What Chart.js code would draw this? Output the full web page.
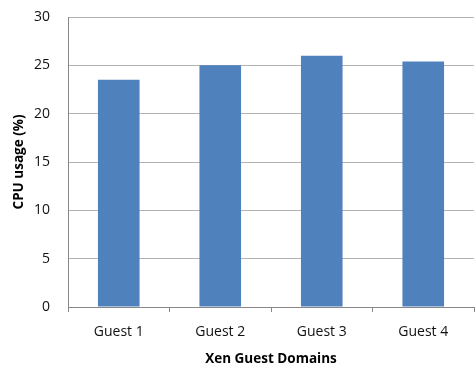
<!DOCTYPE html>
<html>
<head>
<meta charset="utf-8">
<script src="https://cdn.jsdelivr.net/npm/chart.js@4"></script>
<style>
  html, body { margin: 0; padding: 0; background: #fff; }
  #wrap { width: 475px; height: 367px; }
</style>
</head>
<body>
<div id="wrap"><canvas id="cpuChart"></canvas></div>
<script>
const guests = ['Guest 1', 'Guest 2', 'Guest 3', 'Guest 4'];
const cpuUsage = [23.5, 25, 26, 25.4];
const yTicks = [0, 5, 10, 15, 20, 25, 30];

const font = "'Open Sans', Lato, sans-serif";

const ctx = document.getElementById('cpuChart').getContext('2d');
new Chart(ctx, {
  type: 'bar',
  data: {
    labels: guests,
    datasets: [{ label: 'CPU usage', data: cpuUsage, backgroundColor: '#4f81bd', barPercentage: 0.41, categoryPercentage: 1 }]
  },
  options: {
    responsive: true,
    maintainAspectRatio: false,
    animation: false,
    layout: { padding: { top: 17, right: 1, bottom: 0, left: 0 } },
    plugins: { legend: { display: false }, tooltip: { enabled: false } },
    scales: {
      x: {
        offset: true,
        grid: { offset: true, drawOnChartArea: false, color: '#888', tickLength: 5, tickColor: '#888' },
        border: { color: '#888' },
        ticks: { color: '#111', padding: 12, font: { family: font, size: 14 } },
        title: { display: true, text: 'Xen Guest Domains', color: '#000', padding: { top: 0, bottom: 0 }, font: { family: font, size: 13.5, weight: 'bold', lineHeight: 1.2 } },
        afterFit: s => { s.height = 60; }
      },
      y: {
        min: 0, max: 30,
        afterBuildTicks: s => { s.ticks = yTicks.map(v => ({ value: v })); },
        grid: { color: '#b3b3b3', drawTicks: false },
        border: { color: '#888' },
        ticks: { color: '#111', padding: 18, font: { family: font, size: 14 } },
        title: { display: true, text: 'CPU usage (%)', color: '#000', padding: { top: 11, bottom: 0 }, font: { family: font, size: 13.5, weight: 'bold', lineHeight: 1.2 } },
        afterFit: s => { s.width = 68; s.paddingTop = 0; s.paddingBottom = 0; }
      }
    }
  }
});
</script>
</body>
</html>
